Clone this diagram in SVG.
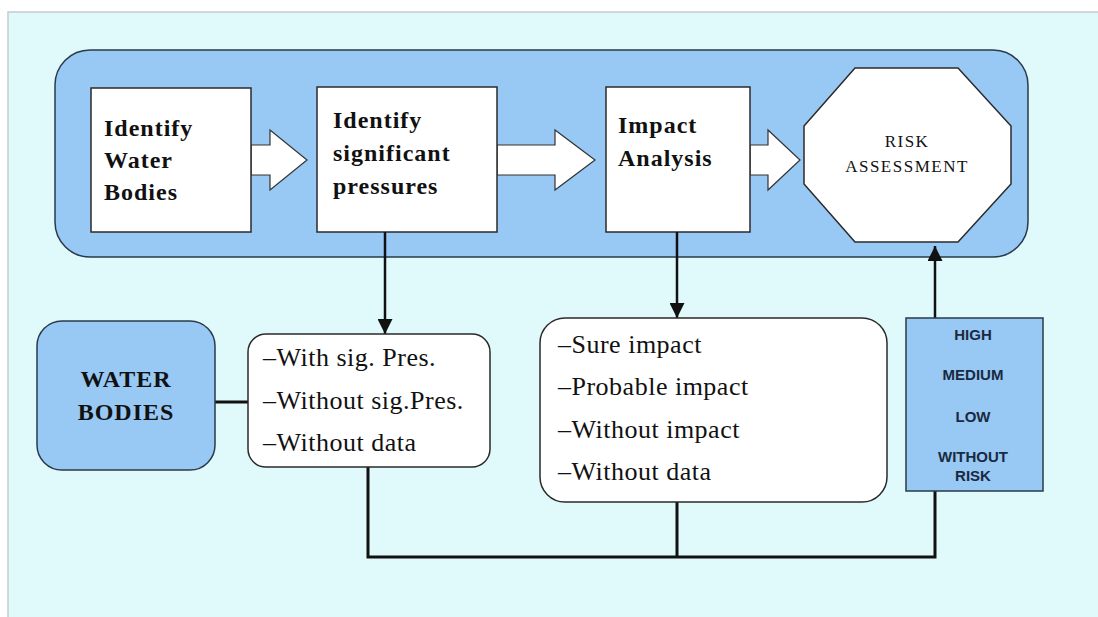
<svg xmlns="http://www.w3.org/2000/svg" width="1098" height="617" viewBox="0 0 1098 617">
<defs>
<style>
.bg{fill:#e0fafb;stroke:#c8cccc;stroke-width:1.5}
.panel{fill:#98c8f4;stroke:#2a3a4a;stroke-width:1.5}
.box{fill:#ffffff;stroke:#2a2a2a;stroke-width:1.5}
.blk{fill:#ffffff;stroke:#333;stroke-width:1.2}
.blue{fill:#98c8f4;stroke:#2a3a4a;stroke-width:1.5}
.t{font-family:"Liberation Serif",serif;fill:#111}
.b{font-weight:bold;font-size:24px;letter-spacing:1px}
.n{font-size:26px;letter-spacing:0.5px}
.s{font-family:"Liberation Sans",Arial,sans-serif;font-weight:bold;font-size:15px;fill:#1a2a40;text-anchor:middle}
.ln{fill:none;stroke:#111;stroke-width:3}
</style>
<marker id="ah2" viewBox="0 0 12 12" refX="12" refY="6" markerWidth="6" markerHeight="6" orient="auto">
<path d="M0,0 L12,6 L0,12 z" fill="#111"/>
</marker>
</defs>
<rect x="0" y="0" width="1098" height="617" fill="#ffffff"/>
<rect class="bg" x="8" y="12" width="1095" height="610"/>
<g id="panel">
<rect class="panel" x="55" y="50" width="973" height="207" rx="35" ry="35"/>
</g>
<g id="arrows-block">
<path class="blk" d="M251,145 H270 V130 L307,160 L270,190 V175 H251 Z"/>
<path class="blk" d="M497,145 H555 V130 L595,160 L555,190 V175 H497 Z"/>
<path class="blk" d="M750,145 H768 V130 L800,160 L768,190 V175 H750 Z"/>
</g>
<g id="identify-water-bodies">
<rect class="box" x="91" y="88" width="160" height="144"/>
<text class="t b" x="104" y="136">Identify</text>
<text class="t b" x="104" y="168">Water</text>
<text class="t b" x="104" y="200">Bodies</text>
</g>
<g id="identify-pressures">
<rect class="box" x="317" y="87" width="180" height="145"/>
<text class="t b" x="333" y="128">Identify</text>
<text class="t b" x="333" y="161">significant</text>
<text class="t b" x="333" y="194">pressures</text>
</g>
<g id="impact-analysis">
<rect class="box" x="606" y="87" width="144" height="145"/>
<text class="t b" x="618" y="133">Impact</text>
<text class="t b" x="618" y="166">Analysis</text>
</g>
<g id="risk-assessment">
<polygon class="box" points="855,68 958,68 1011,126 1011,184 958,242 855,242 804,184 804,126"/>
<text class="t" x="907" y="147" font-size="17" letter-spacing="1.5" text-anchor="middle">RISK</text>
<text class="t" x="907" y="172" font-size="17" letter-spacing="1.5" text-anchor="middle">ASSESSMENT</text>
</g>
<g id="connectors">
<line class="ln" x1="385" y1="232" x2="385" y2="334" marker-end="url(#ah2)" style="stroke-width:2.5"/>
<line class="ln" x1="677" y1="232" x2="677" y2="318" marker-end="url(#ah2)" style="stroke-width:2.5"/>
<line class="ln" x1="215" y1="402" x2="248" y2="402"/>
<polyline class="ln" points="368,467 368,557 935,557 935,491"/>
<line class="ln" x1="677" y1="502" x2="677" y2="557"/>
<line class="ln" x1="935" y1="318" x2="935" y2="246" marker-end="url(#ah2)" style="stroke-width:2.5"/>
</g>
<g id="water-bodies">
<rect class="blue" x="37" y="321" width="178" height="149" rx="25" ry="25"/>
<text class="t b" x="126" y="387" text-anchor="middle">WATER</text>
<text class="t b" x="126" y="420" text-anchor="middle">BODIES</text>
</g>
<g id="pressure-list">
<rect class="box" x="248" y="334" width="242" height="133" rx="18" ry="18"/>
<text class="t n" x="263" y="366">–With sig. Pres.</text>
<text class="t n" x="263" y="409">–Without sig.Pres.</text>
<text class="t n" x="263" y="451">–Without data</text>
</g>
<g id="impact-list">
<rect class="box" x="540" y="318" width="347" height="184" rx="25" ry="25"/>
<text class="t n" x="558" y="353">–Sure impact</text>
<text class="t n" x="558" y="395">–Probable impact</text>
<text class="t n" x="558" y="438">–Without impact</text>
<text class="t n" x="558" y="480">–Without data</text>
</g>
<g id="risk-levels">
<rect class="blue" x="906" y="318" width="137" height="173"/>
<text class="s" x="973" y="340">HIGH</text>
<text class="s" x="973" y="380">MEDIUM</text>
<text class="s" x="973" y="422">LOW</text>
<text class="s" x="973" y="462">WITHOUT</text>
<text class="s" x="973" y="481">RISK</text>
</g>
</svg>
